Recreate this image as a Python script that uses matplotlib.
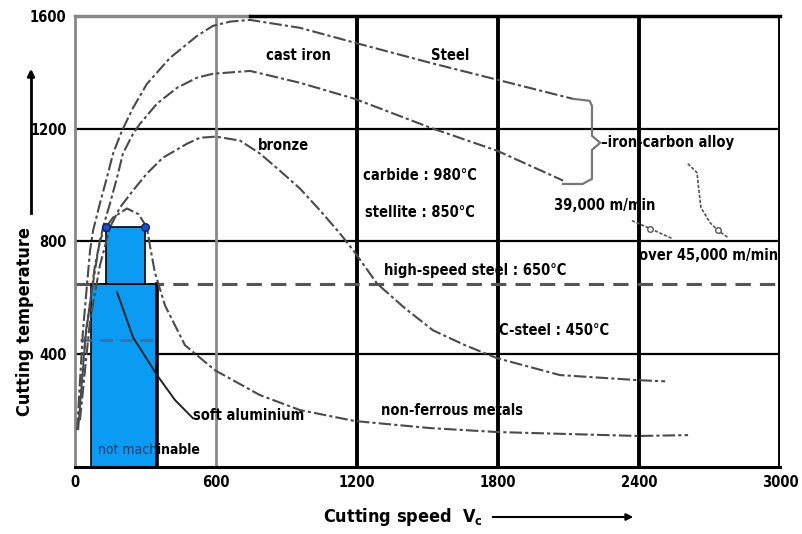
import matplotlib.pyplot as plt
from matplotlib.patches import Rectangle

plt.rcParams['font.family'] = ['Liberation Sans Narrow', 'DejaVu Sans Condensed', 'DejaVu Sans']
plt.rcParams['font.stretch'] = 'condensed'

# Curves (cutting speed m/min, temperature °C)
steel_v = [9, 34, 64, 77, 106, 136, 162, 200, 247, 306, 404, 519, 587, 660, 745, 957, 1191, 1511, 1796, 2119]
steel_t = [131, 485, 768, 839, 935, 1027, 1112, 1193, 1274, 1359, 1451, 1529, 1565, 1580, 1586, 1558, 1505, 1434, 1374, 1306]

cast_v = [13, 43, 85, 119, 149, 179, 204, 247, 277, 349, 434, 519, 587, 745, 957, 1191, 1511, 1796, 2077]
cast_t = [131, 450, 715, 850, 935, 1027, 1112, 1182, 1218, 1289, 1345, 1381, 1395, 1405, 1363, 1306, 1204, 1122, 1016]

bronze_v = [21, 64, 106, 149, 191, 247, 306, 374, 477, 532, 600, 702, 787, 872, 957, 1043, 1128, 1191,
            1285, 1400, 1523, 1660, 1796, 2064, 2396, 2511]
bronze_t = [166, 520, 715, 850, 920, 981, 1041, 1097, 1147, 1168, 1172, 1158, 1112, 1051, 988, 910, 828, 761,
            651, 566, 485, 432, 386, 326, 308, 304]

nonfe_v = [17, 47, 85, 106, 128, 162, 221, 270, 306, 320, 340, 383, 468, 596, 787, 957, 1191, 1511, 1796,
           2396, 2609]
nonfe_t = [166, 485, 697, 804, 846, 885, 917, 897, 850, 780, 690, 573, 432, 343, 255, 202, 163, 138, 124,
           110, 113]

alu_v = [179, 247, 349, 426, 502]
alu_t = [620, 460, 326, 237, 173]

fast1_v = [2370, 2447, 2540]
fast1_t = [874, 846, 811]
fast2_v = [2608, 2647, 2655, 2664, 2702, 2736, 2779]
fast2_t = [1076, 1044, 981, 920, 867, 839, 814]

# tool temperature limits
hss_limit = 650
csteel_limit = 450

# not machinable zones
low_zone_v = [70, 350]
low_zone_t = [0, 650]
high_zone_v = [130, 300]
high_zone_t = [650, 850]

# bracket for iron-carbon alloy
brace_v = [2119, 2190, 2200, 2200, 2235, 2200, 2200, 2160, 2077]
brace_t = [1306, 1299, 1281, 1175, 1150, 1125, 1022, 1004, 1004]

x_ticks = [0, 600, 1200, 1800, 2400, 3000]
y_ticks = [400, 800, 1200, 1600]

fig = plt.figure(figsize=(8.03, 5.34), dpi=100)
ax = fig.add_axes([0.0934, 0.1255, 0.8779, 0.8446])
ax.set_xlim(0, 3000)
ax.set_ylim(0, 1600)

# grid
for y in [400, 800, 1200]:
    ax.axhline(y, color='black', lw=1.6, zorder=1)
ax.plot([0, 745], [1600, 1600], color='#888888', lw=2.5, zorder=1, clip_on=False)
ax.plot([745, 3000], [1600, 1600], color='black', lw=2.5, zorder=1, clip_on=False)
ax.axvline(600, color='#8a8a8a', lw=2, zorder=1)
for x in [1200, 1800, 2400, 3000]:
    ax.axvline(x, color='black', lw=2.8, zorder=1)

for s in ['top', 'right']:
    ax.spines[s].set_visible(False)
ax.spines['left'].set_color('#888888')
ax.spines['left'].set_linewidth(2)
ax.spines['bottom'].set_linewidth(2.2)

ax.set_xticks(x_ticks)
ax.set_yticks(y_ticks)
ax.tick_params(length=0, labelsize=10.5, pad=6)
for lab in ax.get_xticklabels() + ax.get_yticklabels():
    lab.set_fontweight('bold')

# limits
ax.axhline(hss_limit, color='#555555', lw=2.2, ls=(0, (5, 3)), zorder=1)
ax.plot([20, low_zone_v[1]], [csteel_limit, csteel_limit], color='#3b6e9e', lw=1.8,
        ls=(0, (5, 3)), zorder=4)

# blue zones
blue = '#0a9bf2'
ax.add_patch(Rectangle((low_zone_v[0], low_zone_t[0]), low_zone_v[1] - low_zone_v[0],
                       low_zone_t[1] - low_zone_t[0], facecolor=blue, edgecolor='black',
                       lw=1.2, zorder=2))
ax.plot([low_zone_v[1], low_zone_v[1]], low_zone_t, color='black', lw=2.6, zorder=3)
ax.add_patch(Rectangle((high_zone_v[0], high_zone_t[0]), high_zone_v[1] - high_zone_v[0],
                       high_zone_t[1] - high_zone_t[0], facecolor=blue, edgecolor='black',
                       lw=1.2, zorder=2))
ax.scatter(high_zone_v, [high_zone_t[1]] * 2, s=30, color='#1a4fd0', edgecolor='#0a1f6a',
           zorder=6)

# material curves
curve_style = dict(color='#4a4a4a', lw=1.5, ls=(0, (6, 1.5, 1.5, 1.5)), zorder=5)
ax.plot(steel_v, steel_t, **curve_style)
ax.plot(cast_v, cast_t, **curve_style)
ax.plot(bronze_v, bronze_t, **curve_style)
ax.plot(nonfe_v, nonfe_t, **curve_style)
ax.plot(alu_v, alu_t, color='#222222', lw=1.4, zorder=5)
ax.plot(fast1_v, fast1_t, color='#555555', lw=1.2, ls=(0, (2, 1)), marker='o',
        markevery=[1], ms=4, mfc='white', zorder=5)
ax.plot(fast2_v, fast2_t, color='#555555', lw=1.2, ls=(0, (2, 1)), marker='o',
        markevery=[5], ms=4, mfc='white', zorder=5)
ax.plot(brace_v, brace_t, color='#777777', lw=1.6, zorder=5)

# labels
tk = dict(fontsize=10.5, fontweight='bold', ha='center', va='center', zorder=7)
ax.text(949, 1458, 'cast iron', **tk)
ax.text(1596, 1458, 'Steel', **tk)
ax.text(885, 1140, 'bronze', **tk)
ax.text(1468, 1034, 'carbide : 980°C', **tk)
ax.text(1468, 903, 'stellite : 850°C', **tk)
ax.text(1705, 697, 'high-speed steel : 650°C', **tk)
ax.text(2040, 485, 'C-steel : 450°C', **tk)
ax.text(740, 181, 'soft aluminium', **tk)
ax.text(1604, 202, 'non-ferrous metals', **tk)
ax.text(2255, 927, '39,000 m/min', **tk)
ax.text(2698, 750, 'over 45,000 m/min', **tk)
ax.text(2240, 1150, '–iron-carbon alloy', fontsize=10.5, fontweight='bold', ha='left',
        va='center', zorder=7)
ax.text(350, 60, 'not mach', fontsize=10, color='#1c3f70', ha='right', va='center', zorder=7)
ax.text(350, 60, 'inable', fontsize=10, fontweight='bold', ha='left', va='center', zorder=7)

# axis titles with arrows
fig.text(25 / 803, 1 - 322 / 534, 'Cutting temperature', rotation=90, fontsize=13,
         fontweight='bold', ha='center', va='center')
fig.add_artist(plt.Line2D([31 / 803, 31 / 803], [1 - 213 / 534, 1 - 75 / 534],
                          color='black', lw=2))
ax.annotate('', xy=(31 / 803, 1 - 66 / 534), xytext=(31 / 803, 1 - 80 / 534),
            xycoords='figure fraction', arrowprops=dict(arrowstyle='-|>', color='black', lw=2))
fig.text(403 / 803, 1 - 517 / 534, 'Cutting speed  V$_\\mathregular{c}$', fontsize=13,
         fontweight='bold', ha='center', va='center')
ax.annotate('', xy=(636 / 803, 1 - 517 / 534), xytext=(490 / 803, 1 - 517 / 534),
            xycoords='figure fraction', arrowprops=dict(arrowstyle='-|>', color='black', lw=1.5))

fig.savefig('out.png', dpi=100, facecolor='white')
